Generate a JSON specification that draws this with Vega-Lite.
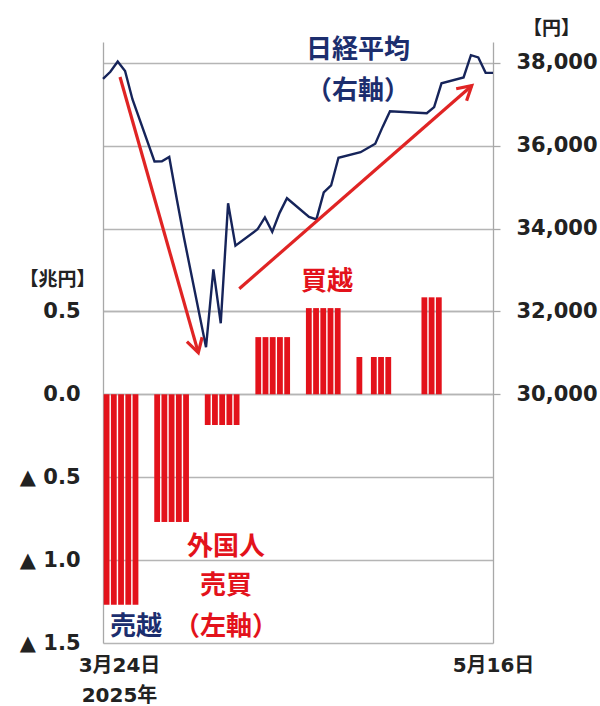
{
  "$schema": "https://vega.github.io/schema/vega-lite/v6.json",
  "width": 390,
  "height": 601,
  "autosize": {"type": "none"},
  "padding": {"left": 103, "top": 42, "right": 107, "bottom": 63},
  "background": "white",
  "config": {
    "view": {"stroke": null},
    "axis": {"gridColor": "#b5b5b5", "gridWidth": 1.3, "domainColor": "#a8a8a8", "domainWidth": 1.3, "tickColor": "#a8a8a8", "tickWidth": 1.3}
  },
  "layer": [
    {
      "layer": [
        {
          "data": {"values": [
            {"date": "2025-03-24", "value": -1.27}, {"date": "2025-03-25", "value": -1.27}, {"date": "2025-03-26", "value": -1.27}, {"date": "2025-03-27", "value": -1.27}, {"date": "2025-03-28", "value": -1.27},
            {"date": "2025-03-31", "value": -0.77}, {"date": "2025-04-01", "value": -0.77}, {"date": "2025-04-02", "value": -0.77}, {"date": "2025-04-03", "value": -0.77}, {"date": "2025-04-04", "value": -0.77},
            {"date": "2025-04-07", "value": -0.185}, {"date": "2025-04-08", "value": -0.185}, {"date": "2025-04-09", "value": -0.185}, {"date": "2025-04-10", "value": -0.185}, {"date": "2025-04-11", "value": -0.185},
            {"date": "2025-04-14", "value": 0.345}, {"date": "2025-04-15", "value": 0.345}, {"date": "2025-04-16", "value": 0.345}, {"date": "2025-04-17", "value": 0.345}, {"date": "2025-04-18", "value": 0.345},
            {"date": "2025-04-21", "value": 0.52}, {"date": "2025-04-22", "value": 0.52}, {"date": "2025-04-23", "value": 0.52}, {"date": "2025-04-24", "value": 0.52}, {"date": "2025-04-25", "value": 0.52},
            {"date": "2025-04-28", "value": 0.225}, {"date": "2025-04-30", "value": 0.225}, {"date": "2025-05-01", "value": 0.225}, {"date": "2025-05-02", "value": 0.225},
            {"date": "2025-05-07", "value": 0.585}, {"date": "2025-05-08", "value": 0.585}, {"date": "2025-05-09", "value": 0.585}
          ]},
          "mark": {"type": "bar", "size": 5.8, "xOffset": 3.6, "color": "#e3121b"},
          "encoding": {
            "x": {"field": "date", "type": "temporal", "scale": {"type": "utc", "domain": [{"year": 2025, "month": 3, "date": 24, "utc": true}, {"year": 2025, "month": 5, "date": 17, "utc": true}], "nice": false, "padding": 0}, "axis": null},
            "y": {"field": "value", "type": "quantitative", "scale": {"domain": [-1.5, 2.125], "nice": false, "zero": false, "padding": 0},
              "axis": {"orient": "left", "values": [-1.5, -1, -0.5, 0, 0.5], "title": "【兆円】", "titleAngle": 0, "titleX": -46, "titleY": 237, "titleAlign": "center", "titleBaseline": "middle", "titleFont": "Noto Sans CJK JP", "titleFontSize": 19, "titleFontWeight": "bold", "titleColor": "#222222",
                "labelExpr": "datum.value < 0 ? '▲ ' + format(-datum.value, '.1f') : format(datum.value, '.1f')",
                "labelFont": "DejaVu Sans", "labelFontSize": 21, "labelFontWeight": "bold", "labelColor": "#222222", "labelPadding": 23, "ticks": false, "tickSize": 0, "grid": true, "domain": true, "labelOverlap": false, "labelFlush": false, "labelBound": false}}
          }
        },
        {
          "data": {"values": [
            {"date": "2025-04-24T00:30:00Z", "value": 0.675, "label": "買越"},
            {"date": "2025-04-10T00:45:00Z", "value": -0.922, "label": "外国人"},
            {"date": "2025-04-10T00:45:00Z", "value": -1.155, "label": "売買"},
            {"date": "2025-04-10T00:45:00Z", "value": -1.404, "label": "（左軸）"}
          ]},
          "mark": {"type": "text", "font": "Noto Sans CJK JP", "fontSize": 26, "fontWeight": "bold", "color": "#e3121b", "align": "center", "baseline": "middle"},
          "encoding": {
            "x": {"field": "date", "type": "temporal"},
            "y": {"field": "value", "type": "quantitative"},
            "text": {"field": "label"}
          }
        },
        {
          "data": {"values": [
            {"date": "2025-03-28T13:40:00Z", "value": -1.404, "label": "売越"}
          ]},
          "mark": {"type": "text", "font": "Noto Sans CJK JP", "fontSize": 26, "fontWeight": "bold", "color": "#1c2e6e", "align": "center", "baseline": "middle"},
          "encoding": {
            "x": {"field": "date", "type": "temporal"},
            "y": {"field": "value", "type": "quantitative"},
            "text": {"field": "label"}
          }
        }
      ]
    },
    {
      "layer": [
        {
          "data": {"values": [
            {"date": "2025-03-24", "price": 37608}, {"date": "2025-03-25", "price": 37781}, {"date": "2025-03-26", "price": 38027}, {"date": "2025-03-27", "price": 37800}, {"date": "2025-03-28", "price": 37120},
            {"date": "2025-03-31", "price": 35618}, {"date": "2025-04-01", "price": 35624}, {"date": "2025-04-02", "price": 35726}, {"date": "2025-04-03", "price": 34736}, {"date": "2025-04-04", "price": 33781},
            {"date": "2025-04-07", "price": 31137}, {"date": "2025-04-08", "price": 33013}, {"date": "2025-04-09", "price": 31714}, {"date": "2025-04-10", "price": 34609}, {"date": "2025-04-11", "price": 33586},
            {"date": "2025-04-14", "price": 33982}, {"date": "2025-04-15", "price": 34268}, {"date": "2025-04-16", "price": 33920}, {"date": "2025-04-17", "price": 34378}, {"date": "2025-04-18", "price": 34730},
            {"date": "2025-04-21", "price": 34280}, {"date": "2025-04-22", "price": 34221}, {"date": "2025-04-23", "price": 34869}, {"date": "2025-04-24", "price": 35039}, {"date": "2025-04-25", "price": 35706},
            {"date": "2025-04-28", "price": 35840}, {"date": "2025-04-30", "price": 36045}, {"date": "2025-05-01", "price": 36452}, {"date": "2025-05-02", "price": 36831},
            {"date": "2025-05-07", "price": 36780}, {"date": "2025-05-08", "price": 36929}, {"date": "2025-05-09", "price": 37503},
            {"date": "2025-05-12", "price": 37644}, {"date": "2025-05-13", "price": 38183}, {"date": "2025-05-14", "price": 38128}, {"date": "2025-05-15", "price": 37756}, {"date": "2025-05-16", "price": 37754}
          ]},
          "mark": {"type": "line", "color": "#16245a", "strokeWidth": 2.4, "strokeJoin": "miter"},
          "encoding": {
            "x": {"field": "date", "type": "temporal", "scale": {"type": "utc", "domain": [{"year": 2025, "month": 3, "date": 24, "utc": true}, {"year": 2025, "month": 5, "date": 16, "utc": true}], "nice": false, "padding": 0},
              "axis": {"orient": "bottom", "values": [{"year": 2025, "month": 3, "date": 24, "utc": true}, {"year": 2025, "month": 5, "date": 16, "utc": true}], "title": null,
                "labelExpr": "utcmonth(datum.value) == 2 ? ['3月24日', '2025年'] : '5月16日'",
                "labelOffset": {"condition": {"test": "utcmonth(datum.value) == 2", "value": 16}, "value": 0},
                "labelFont": "DejaVu Sans, Noto Sans CJK JP", "labelFontSize": 20, "labelFontWeight": "bold", "labelColor": "#222222", "labelLineHeight": 30, "labelBaseline": "top", "labelAlign": "center", "labelPadding": 12,
                "ticks": false, "tickSize": 0, "domain": false, "grid": false, "labelFlush": false, "labelOverlap": false, "labelBound": false}},
            "y": {"field": "price", "type": "quantitative", "scale": {"domain": [24000, 38500], "nice": false, "zero": false, "padding": 0},
              "axis": {"orient": "right", "values": [30000, 32000, 34000, 36000, 38000], "format": ",d", "title": "【円】", "titleAngle": 0, "titleX": 58, "titleY": -14, "titleAlign": "center", "titleBaseline": "middle", "titleFont": "Noto Sans CJK JP", "titleFontSize": 19, "titleFontWeight": "bold", "titleColor": "#222222",
                "labelFont": "DejaVu Sans", "labelFontSize": 21, "labelFontWeight": "bold", "labelColor": "#222222", "labelPadding": 16, "ticks": true, "tickSize": 7, "grid": true, "domain": true, "labelOverlap": false, "labelFlush": false, "labelBound": false}}
          }
        },
        {
          "data": {"values": [
            {"date": "2025-03-26T07:30:00Z", "price": 37655, "date2": "2025-04-05T22:50:00Z", "price2": 31005},
            {"date": "2025-04-11T12:30:00Z", "price": 32547, "date2": "2025-05-13T02:40:00Z", "price2": 37446}
          ]},
          "mark": {"type": "rule", "color": "#e02424", "strokeWidth": 3.2},
          "encoding": {
            "x": {"field": "date", "type": "temporal"},
            "x2": {"field": "date2"},
            "y": {"field": "price", "type": "quantitative"},
            "y2": {"field": "price2"}
          }
        },
        {
          "data": {"values": [{"date": "2025-04-05T22:50:00Z", "price": 31005}]},
          "mark": {"type": "point", "shape": "M-0.5,0.87L0,0L0.5,0.87", "filled": false, "size": 1000, "strokeWidth": 3.2, "color": "#e02424", "opacity": 1, "angle": 164},
          "encoding": {
            "x": {"field": "date", "type": "temporal"},
            "y": {"field": "price", "type": "quantitative"}
          }
        },
        {
          "data": {"values": [{"date": "2025-05-13T02:40:00Z", "price": 37446}]},
          "mark": {"type": "point", "shape": "M-0.5,0.87L0,0L0.5,0.87", "filled": false, "size": 1000, "strokeWidth": 3.2, "color": "#e02424", "opacity": 1, "angle": 48.8},
          "encoding": {
            "x": {"field": "date", "type": "temporal"},
            "y": {"field": "price", "type": "quantitative"}
          }
        },
        {
          "data": {"values": [
            {"date": "2025-04-27T16:00:00Z", "price": 38313, "label": "日経平均"},
            {"date": "2025-04-27T16:00:00Z", "price": 37308, "label": "（右軸）"}
          ]},
          "mark": {"type": "text", "font": "Noto Sans CJK JP", "fontSize": 26, "fontWeight": "bold", "color": "#1c2e6e", "align": "center", "baseline": "middle"},
          "encoding": {
            "x": {"field": "date", "type": "temporal"},
            "y": {"field": "price", "type": "quantitative"},
            "text": {"field": "label"}
          }
        }
      ]
    }
  ],
  "resolve": {"scale": {"x": "independent", "y": "independent"}, "axis": {"x": "independent", "y": "independent"}}
}
